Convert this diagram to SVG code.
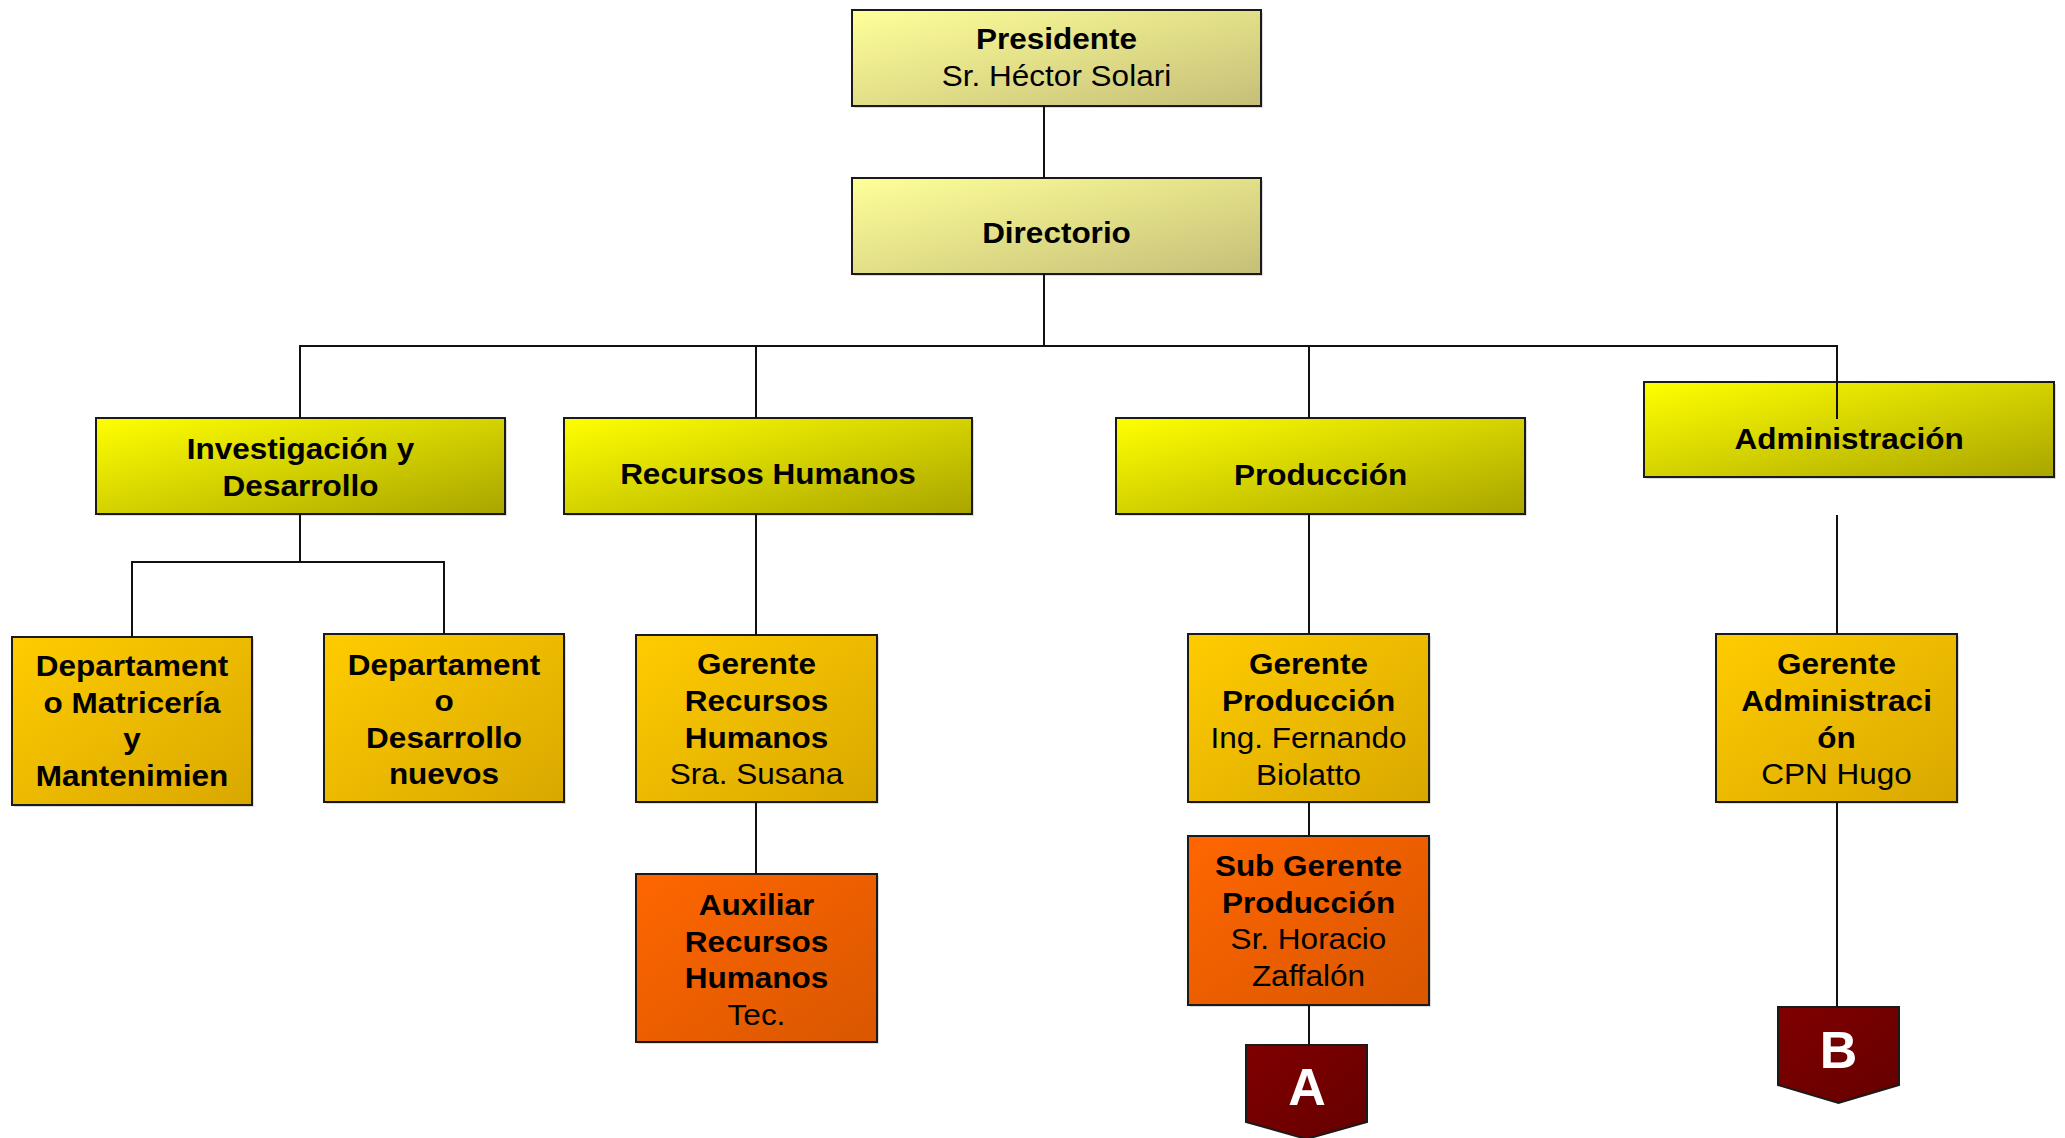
<svg xmlns="http://www.w3.org/2000/svg" width="2065" height="1138" viewBox="0 0 2065 1138">
  <defs>
    <linearGradient id="gTop" x1="0" y1="0" x2="1" y2="1">
      <stop offset="0" stop-color="#FFFF99"/>
      <stop offset="1" stop-color="#C5BF78"/>
    </linearGradient>
    <linearGradient id="gArea" x1="0" y1="0" x2="1" y2="1">
      <stop offset="0" stop-color="#FFFF00"/>
      <stop offset="1" stop-color="#A9A500"/>
    </linearGradient>
    <linearGradient id="gMgr" x1="0" y1="0" x2="1" y2="1">
      <stop offset="0" stop-color="#FFCC00"/>
      <stop offset="1" stop-color="#D9A800"/>
    </linearGradient>
    <linearGradient id="gAux" x1="0" y1="0" x2="1" y2="1">
      <stop offset="0" stop-color="#FF6600"/>
      <stop offset="1" stop-color="#D95700"/>
    </linearGradient>
    <linearGradient id="gRef" x1="0" y1="0" x2="1" y2="1">
      <stop offset="0" stop-color="#800000"/>
      <stop offset="1" stop-color="#650000"/>
    </linearGradient>
  </defs>
  <style>
    .box { stroke: #1a1a1a; stroke-width: 2; }
    .sh { fill: #9a9a9a; opacity: 0.35; }
    .top { fill: url(#gTop); }
    .area { fill: url(#gArea); }
    .mgr { fill: url(#gMgr); }
    .aux { fill: url(#gAux); }
    .ref { fill: url(#gRef); }
    .t { font-family: "Liberation Sans", Arial, sans-serif; font-size: 30px; text-anchor: middle; fill: #000; }
    .b { font-weight: bold; }
    .r { font-weight: normal; }
    .lt { font-family: "Liberation Sans", Arial, sans-serif; font-size: 52px; font-weight: bold; text-anchor: middle; fill: #fff; }
    .ln { fill: none; stroke: #111; stroke-width: 2; }
  </style>

  <rect width="2065" height="1138" fill="#ffffff"/>

  <!-- Presidente -->
  <g id="presidente">
    <rect class="sh" x="854" y="12" width="409" height="96"/>
    <rect class="box top" x="852" y="10" width="409" height="96"/>
    <text class="t" transform="translate(1056.5 0) scale(1.05 1)"><tspan class="b" x="0" y="49.5">Presidente</tspan><tspan class="r" x="0" y="86.3">Sr. Héctor Solari</tspan></text>
  </g>

  <!-- Directorio -->
  <g id="directorio">
    <rect class="sh" x="854" y="180" width="409" height="96"/>
    <rect class="box top" x="852" y="178" width="409" height="96"/>
    <text class="t b" transform="translate(1056.5 0) scale(1.05 1)" x="0" y="243">Directorio</text>
  </g>

  <!-- Investigación y Desarrollo -->
  <g id="investigacion">
    <rect class="sh" x="98" y="420" width="409" height="96"/>
    <rect class="box area" x="96" y="418" width="409" height="96"/>
    <text class="t b" transform="translate(300.5 0) scale(1.05 1)"><tspan x="0" y="459">Investigación y</tspan><tspan x="0" y="496">Desarrollo</tspan></text>
  </g>

  <!-- Recursos Humanos -->
  <g id="rrhh">
    <rect class="sh" x="566" y="420" width="408" height="96"/>
    <rect class="box area" x="564" y="418" width="408" height="96"/>
    <text class="t b" transform="translate(768 0) scale(1.05 1)" x="0" y="484">Recursos Humanos</text>
  </g>

  <!-- Producción -->
  <g id="produccion">
    <rect class="sh" x="1118" y="420" width="409" height="96"/>
    <rect class="box area" x="1116" y="418" width="409" height="96"/>
    <text class="t b" transform="translate(1320.5 0) scale(1.05 1)" x="0" y="485">Producción</text>
  </g>

  <!-- Administración -->
  <g id="administracion">
    <rect class="sh" x="1646" y="384" width="410" height="95"/>
    <rect class="box area" x="1644" y="382" width="410" height="95"/>
    <text class="t b" transform="translate(1849 0) scale(1.05 1)" x="0" y="449">Administración</text>
  </g>

  <!-- Departamento Matricería y Mantenimiento -->
  <g id="dep-matriceria">
    <rect class="sh" x="14" y="639" width="240" height="168"/>
    <rect class="box mgr" x="12" y="637" width="240" height="168"/>
    <text class="t b" transform="translate(132 0) scale(1.05 1)"><tspan x="0" y="676">Departament</tspan><tspan x="0" y="713">o Matricería</tspan><tspan x="0" y="749.5">y</tspan><tspan x="0" y="786">Mantenimien</tspan></text>
  </g>

  <!-- Departamento Desarrollo nuevos -->
  <g id="dep-desarrollo">
    <rect class="sh" x="326" y="636" width="240" height="168"/>
    <rect class="box mgr" x="324" y="634" width="240" height="168"/>
    <text class="t b" transform="translate(444 0) scale(1.05 1)"><tspan x="0" y="675">Departament</tspan><tspan x="0" y="711.5">o</tspan><tspan x="0" y="748">Desarrollo</tspan><tspan x="0" y="784.5">nuevos</tspan></text>
  </g>

  <!-- Gerente Recursos Humanos -->
  <g id="gerente-rrhh">
    <rect class="sh" x="638" y="637" width="241" height="167"/>
    <rect class="box mgr" x="636" y="635" width="241" height="167"/>
    <text class="t" transform="translate(756.5 0) scale(1.05 1)"><tspan class="b" x="0" y="674">Gerente</tspan><tspan class="b" x="0" y="711">Recursos</tspan><tspan class="b" x="0" y="748">Humanos</tspan><tspan class="r" x="0" y="784.5">Sra. Susana</tspan></text>
  </g>

  <!-- Auxiliar Recursos Humanos -->
  <g id="auxiliar-rrhh">
    <rect class="sh" x="638" y="876" width="241" height="168"/>
    <rect class="box aux" x="636" y="874" width="241" height="168"/>
    <text class="t" transform="translate(756.5 0) scale(1.05 1)"><tspan class="b" x="0" y="915">Auxiliar</tspan><tspan class="b" x="0" y="951.7">Recursos</tspan><tspan class="b" x="0" y="988.3">Humanos</tspan><tspan class="r" x="0" y="1025">Tec.</tspan></text>
  </g>

  <!-- Gerente Producción -->
  <g id="gerente-produccion">
    <rect class="sh" x="1190" y="636" width="241" height="168"/>
    <rect class="box mgr" x="1188" y="634" width="241" height="168"/>
    <text class="t" transform="translate(1308.5 0) scale(1.05 1)"><tspan class="b" x="0" y="674.5">Gerente</tspan><tspan class="b" x="0" y="711.2">Producción</tspan><tspan class="r" x="0" y="748">Ing. Fernando</tspan><tspan class="r" x="0" y="784.7">Biolatto</tspan></text>
  </g>

  <!-- Sub Gerente Producción -->
  <g id="subgerente-produccion">
    <rect class="sh" x="1190" y="838" width="241" height="169"/>
    <rect class="box aux" x="1188" y="836" width="241" height="169"/>
    <text class="t" transform="translate(1308.5 0) scale(1.05 1)"><tspan class="b" x="0" y="876">Sub Gerente</tspan><tspan class="b" x="0" y="912.7">Producción</tspan><tspan class="r" x="0" y="949.4">Sr. Horacio</tspan><tspan class="r" x="0" y="986">Zaffalón</tspan></text>
  </g>

  <!-- Gerente Administración -->
  <g id="gerente-administracion">
    <rect class="sh" x="1718" y="636" width="241" height="168"/>
    <rect class="box mgr" x="1716" y="634" width="241" height="168"/>
    <text class="t" transform="translate(1836.5 0) scale(1.05 1)"><tspan class="b" x="0" y="674">Gerente</tspan><tspan class="b" x="0" y="711">Administraci</tspan><tspan class="b" x="0" y="747.7">ón</tspan><tspan class="r" x="0" y="784.3">CPN Hugo</tspan></text>
  </g>

  <!-- Off-page reference A -->
  <g id="ref-a">
    <polygon class="box ref" points="1246,1045 1367,1045 1367,1122 1306.5,1139 1246,1122"/>
    <text class="lt" x="1307" y="1105">A</text>
  </g>

  <!-- Off-page reference B -->
  <g id="ref-b">
    <polygon class="box ref" points="1778,1007 1899,1007 1899,1085 1838.5,1103 1778,1085"/>
    <text class="lt" x="1838.5" y="1068">B</text>
  </g>

  <!-- Connectors -->
  <g id="connectors">
    <path class="ln" d="M1044,106 V178"/>
    <path class="ln" d="M1044,274 V346"/>
    <path class="ln" d="M300,418 V346 H1837 V419"/>
    <path class="ln" d="M756,346 V418"/>
    <path class="ln" d="M1309,346 V418"/>
    <path class="ln" d="M300,514 V562"/>
    <path class="ln" d="M132,637 V562 H444 V634"/>
    <path class="ln" d="M756,514 V635"/>
    <path class="ln" d="M756,802 V874"/>
    <path class="ln" d="M1309,514 V634"/>
    <path class="ln" d="M1309,802 V836"/>
    <path class="ln" d="M1309,1005 V1045"/>
    <path class="ln" d="M1837,515 V634"/>
    <path class="ln" d="M1837,802 V1007"/>
  </g>
</svg>
